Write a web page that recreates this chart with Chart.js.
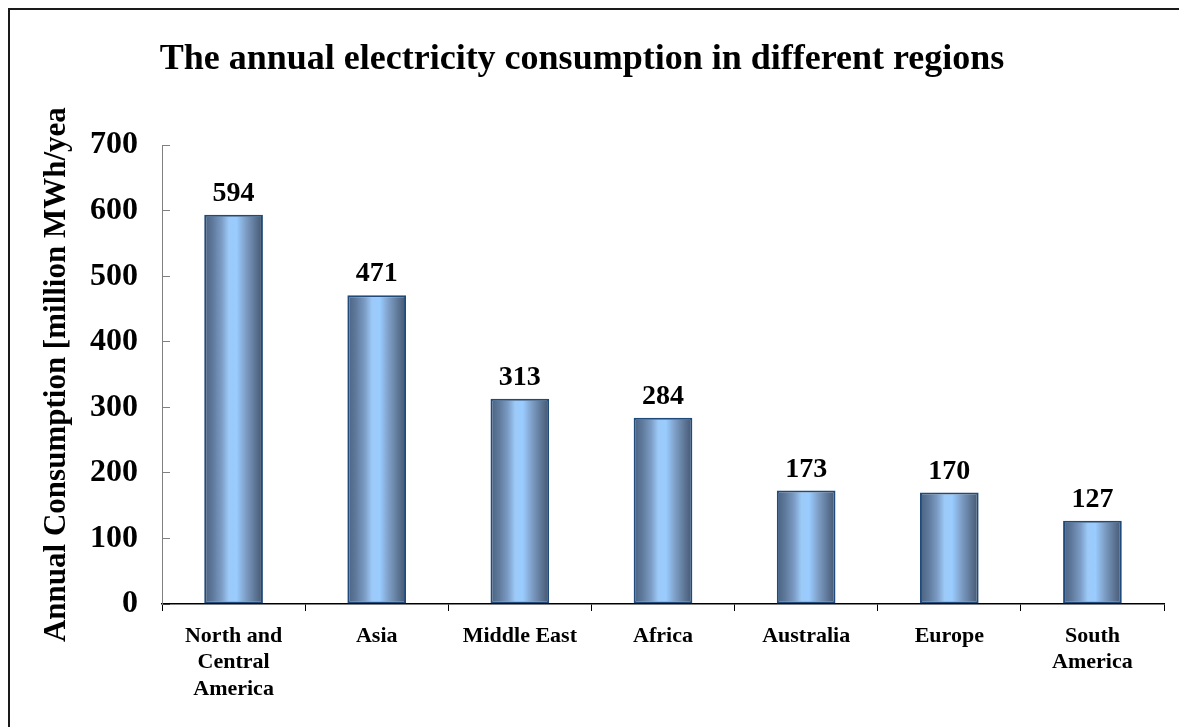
<!DOCTYPE html>
<html>
<head>
<meta charset="utf-8">
<script src="https://cdn.jsdelivr.net/npm/chart.js@4/dist/chart.umd.min.js"></script>
<style>
  body { margin: 0; background: #fff; }
  #wrap { position: relative; width: 1179px; height: 727px; }
  #frame { position: absolute; left: 8px; top: 8px; right: 0; bottom: 0;
           border-top: 2px solid #1a1a1a; border-left: 2px solid #1a1a1a; }
  canvas { position: absolute; left: 0; top: 0; }
</style>
</head>
<body>
<div id="wrap">
  <div id="frame"></div>
  <canvas id="consumptionChart" width="1179" height="727"></canvas>
</div>
<script>
// Data
const regions = [['North and', 'Central', 'America'], 'Asia', 'Middle East', 'Africa', 'Australia', 'Europe', ['South', 'America']];
const consumption = [594, 471, 313, 284, 173, 170, 127];
const yTicks = [0, 100, 200, 300, 400, 500, 600, 700];

const serif = "'Liberation Serif', 'Times New Roman', serif";
const barPct = 0.41;

// horizontal "cylinder" shading for each bar, built from the bar's own x position
function barGradient(c) {
    const chart = c.chart;
    const xs = chart.scales.x;
    if (!xs || !chart.chartArea) return '#99ccff';
    const cx = xs.getPixelForValue(c.dataIndex);
    const half = xs.width / regions.length * barPct / 2;
    const g = chart.ctx.createLinearGradient(cx - half, 0, cx + half, 0);
    g.addColorStop(0, '#4a6282');
    g.addColorStop(0.15, '#5f7a9c');
    g.addColorStop(0.3, '#7d9dc6');
    g.addColorStop(0.42, '#9ccaf8');
    g.addColorStop(0.55, '#99ccff');
    g.addColorStop(0.7, '#7fa0c8');
    g.addColorStop(0.86, '#5f7898');
    g.addColorStop(1, '#44556f');
    return g;
}

// value labels above the bars
const valueLabels = {
    id: 'valueLabels',
    afterDatasetsDraw(chart) {
        const ctx = chart.ctx;
        ctx.save();
        ctx.font = 'bold 28px ' + serif;
        ctx.fillStyle = '#000';
        ctx.textAlign = 'center';
        ctx.textBaseline = 'alphabetic';
        chart.getDatasetMeta(0).data.forEach((bar, i) => {
            ctx.fillText(consumption[i], bar.x, bar.y - 14);
        });
        ctx.restore();
    }
};

const ctxChart = document.getElementById('consumptionChart').getContext('2d');
const consumptionChart = new Chart(ctxChart, {
    type: 'bar',
    data: {
        labels: regions,
        datasets: [{
            data: consumption,
            backgroundColor: barGradient,
            borderColor: '#1f4a7a',
            borderWidth: 2,
            borderSkipped: false,
            categoryPercentage: 1,
            barPercentage: barPct
        }]
    },
    options: {
        responsive: false,
        animation: false,
        layout: { padding: { left: 0, right: 15, top: 0, bottom: 0 } },
        plugins: {
            legend: { display: false },
            tooltip: { enabled: false },
            title: {
                display: true,
                text: 'The annual electricity consumption in different regions',
                color: '#000',
                font: { family: serif, size: 36, weight: 'bold' },
                padding: { top: 38, bottom: 64 }
            }
        },
        scales: {
            x: {
                afterFit(scale) { scale.height = 123; },
                grid: { drawOnChartArea: false, tickLength: 7, color: '#000', offset: true },
                border: { color: '#000', width: 1.5 },
                ticks: {
                    color: '#000',
                    padding: 12,
                    maxRotation: 0,
                    autoSkip: false,
                    font: { family: serif, size: 22, weight: 'bold', lineHeight: 1.2 }
                }
            },
            y: {
                min: 0,
                max: 700,
                afterFit(scale) { scale.width = 162; },
                afterBuildTicks(scale) { scale.ticks = yTicks.map(v => ({ value: v })); },
                // negative length puts the tick marks inside the plot, as in the picture
                grid: { drawOnChartArea: false, tickLength: -8, color: '#808080' },
                border: { color: '#808080', width: 1 },
                ticks: {
                    color: '#000',
                    padding: 32,
                    font: { family: serif, size: 32, weight: 'bold' }
                },
                title: {
                    display: true,
                    text: 'Annual Consumption [million MWh/yea',
                    color: '#000',
                    padding: { top: 38, bottom: 0 },
                    font: { family: serif, size: 31, weight: 'bold' }
                }
            }
        }
    },
    plugins: [valueLabels]
});
</script>
</body>
</html>
